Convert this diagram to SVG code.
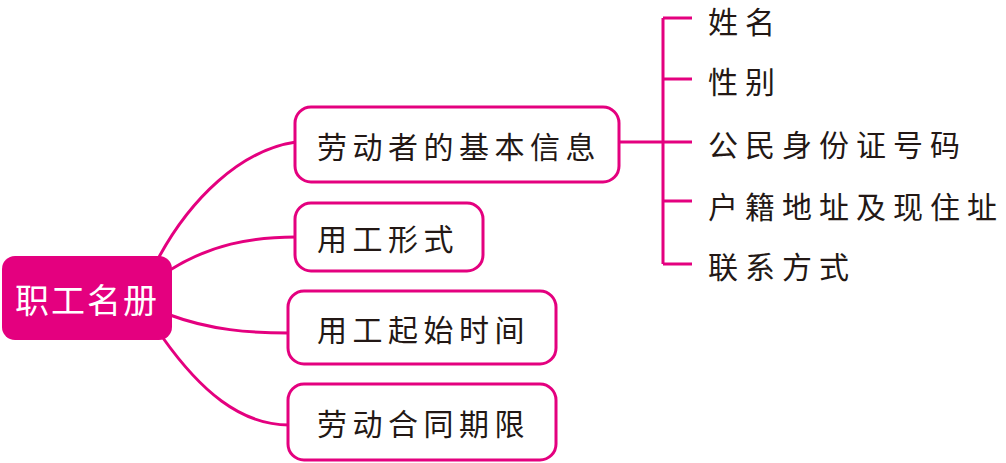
<svg xmlns="http://www.w3.org/2000/svg" width="1006" height="463" viewBox="0 0 1006 463">
<style>
.box{fill:#fff;stroke:#E4007F;stroke-width:3}
.ln{fill:none;stroke:#E4007F;stroke-width:3}
.t{font-family:"Noto Sans CJK SC","Noto Sans CJK JP",sans-serif;font-size:30px;fill:#231815;letter-spacing:5.5px;dominant-baseline:central}
.lf{letter-spacing:7px}
.root{font-family:"Noto Sans CJK SC","Noto Sans CJK JP",sans-serif;font-size:34px;fill:#fff;letter-spacing:2px;dominant-baseline:central}
</style>
<rect width="1006" height="463" fill="#fff"/>
<g id="connectors">
<path class="ln" d="M159,257 C190,200 240,150 296,142"/>
<path class="ln" d="M170,270 C210,245 250,237 296,237"/>
<path class="ln" d="M170,315 C210,330 250,333 289,333"/>
<path class="ln" d="M163,338 C200,390 240,425 289,425"/>
<path class="ln" d="M619,142 H663 M663,18 V264 M663,18 H692 M663,79 H692 M663,142 H692 M663,201 H692 M663,264 H692"/>
</g>
<g id="root">
<rect x="2" y="256" width="170" height="84" rx="13" fill="#E4007F"/>
<text class="root" x="15" y="298">职工名册</text>
</g>
<g id="n1">
<rect class="box" x="295" y="107" width="324" height="75" rx="16"/>
<text class="t" x="317" y="145">劳动者的基本信息</text>
</g>
<g id="n2">
<rect class="box" x="295" y="203" width="188" height="68" rx="16"/>
<text class="t" x="317" y="237">用工形式</text>
</g>
<g id="n3">
<rect class="box" x="288" y="291" width="268" height="73" rx="16"/>
<text class="t" x="317" y="328">用工起始时间</text>
</g>
<g id="n4">
<rect class="box" x="288" y="384" width="268" height="76" rx="16"/>
<text class="t" x="317" y="422">劳动合同期限</text>
</g>
<g id="leaf1"><text class="t lf" x="708" y="20">姓名</text></g>
<g id="leaf2"><text class="t lf" x="708" y="80">性别</text></g>
<g id="leaf3"><text class="t lf" x="708" y="143">公民身份证号码</text></g>
<g id="leaf4"><text class="t lf" x="708" y="205">户籍地址及现住址</text></g>
<g id="leaf5"><text class="t lf" x="708" y="265">联系方式</text></g>
</svg>
